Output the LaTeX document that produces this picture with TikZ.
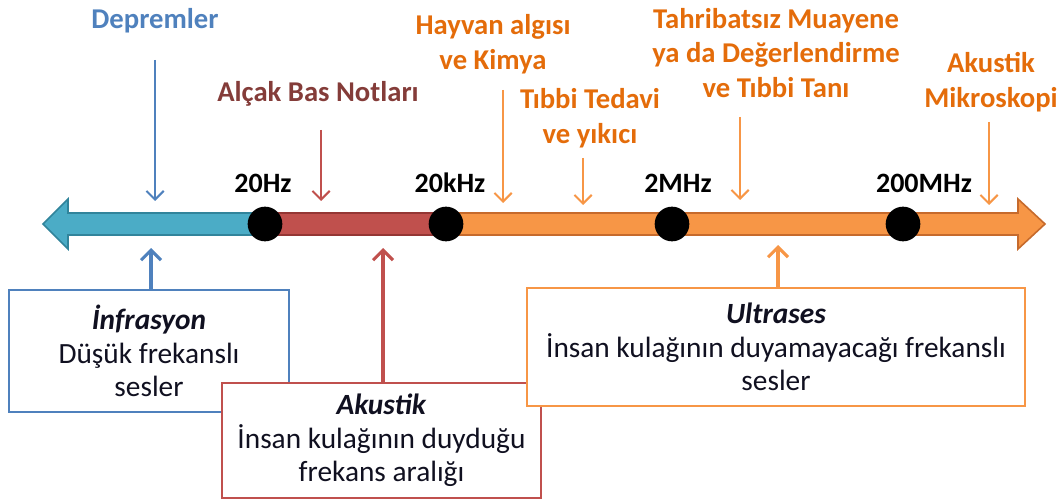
\documentclass[tikz,border=0pt]{standalone}
\usepackage{fontspec}
\setmainfont{Carlito}
\usetikzlibrary{arrows.meta}
\definecolor{cyanf}{HTML}{4BACC6}
\definecolor{cyand}{HTML}{31849B}
\definecolor{redf}{HTML}{C0504D}
\definecolor{redd}{HTML}{943634}
\definecolor{orf}{HTML}{F79646}
\definecolor{ord}{HTML}{C66A2C}
\definecolor{bluel}{HTML}{4F81BD}
\definecolor{dred}{HTML}{843C39}
\definecolor{ortext}{HTML}{E46C0A}
\definecolor{boxtext}{HTML}{101020}
\tikzset{
  lbl/.style={font=\fontsize{21.5}{26}\selectfont\bfseries, align=center, inner sep=0pt},
  hz/.style={font=\fontsize{21}{25}\selectfont\bfseries, text=black, inner sep=0pt},
  dot/.style={circle, fill=black, minimum size=26pt, inner sep=0pt},
  topar/.style={line width=1.5pt, -{Straight Barb[length=6.5pt,width=13pt]}},
  botar/.style={line width=2.3pt, -{Straight Barb[length=7.5pt,width=15pt]}},
  infobox/.style={draw, line width=1.8pt, fill=white, align=center, inner sep=0pt,
    font=\fontsize{22}{25}\selectfont, text=boxtext},
}
\begin{document}
\begin{tikzpicture}[x=0.75pt,y=-0.75pt]
\useasboundingbox (0,0) rectangle (1062,502);
% bar segments
\fill[cyanf, draw=cyand, line width=1.2pt] (265,213) -- (68,213) -- (68,199) -- (43,224) -- (68,249) -- (68,235) -- (265,235) -- cycle;
\fill[redf, draw=redd, line width=1.2pt] (265,213) rectangle (446,235);
\fill[orf, draw=ord, line width=1.2pt] (446,213) -- (1018,213) -- (1018,199) -- (1045,224) -- (1018,249) -- (1018,235) -- (446,235) -- cycle;
% dots
\node[dot] (d1) at (265,224) {};
\node[dot] (d2) at (446,224) {};
\node[dot] (d3) at (672,224) {};
\node[dot] (d4) at (903,224) {};
% Hz labels
\node[hz] (h1) at (263,183) {20Hz};
\node[hz] (h2) at (450,183) {20kHz};
\node[hz] (h3) at (678,183) {2MHz};
\node[hz] (h4) at (924,183) {200MHz};
% top labels
\node[lbl, text=bluel] (dep) at (155,21) {Depremler};
\node[lbl, text=dred] (alc) at (318,94) {Alçak Bas Notları};
\node[lbl, text=ortext] (hay) at (493,44) {Hayvan algısı\\ve Kimya};
\node[lbl, text=ortext] (tib) at (590,118) {Tıbbi Tedavi\\ve yıkıcı};
\node[lbl, text=ortext] (tah) at (776,53) {Tahribatsız Muayene\\ya da Değerlendirme\\ve Tıbbi Tanı};
\node[lbl, text=ortext] (aku) at (991,82) {Akustik\\Mikroskopi};
% arrow endpoints
\coordinate (e1) at (155,201);
\coordinate (s1) at (155,60);
\coordinate (e2) at (321,201);
\coordinate (s2) at (321,130);
\coordinate (e3) at (503,203);
\coordinate (s3) at (503,90);
\coordinate (e4) at (583,205);
\coordinate (s4) at (583,158);
\coordinate (e5) at (740,200);
\coordinate (s5) at (740,117);
\coordinate (e6) at (989,205);
\coordinate (s6) at (989,122);
\draw[topar, bluel] (s1) -- (e1);
\draw[topar, redf] (s2) -- (e2);
\draw[topar, orf] (s3) -- (e3);
\draw[topar, orf] (s4) -- (e4);
\draw[topar, orf] (s5) -- (e5);
\draw[topar, orf] (s6) -- (e6);
% boxes
\node[infobox, draw=bluel, minimum width=210pt, minimum height=91.5pt] (inf) at (149,351)
  {\textbf{\textit{İnfrasyon}}\\Düşük frekanslı\\sesler};
\node[infobox, draw=redf, minimum width=239.25pt, minimum height=86.25pt] (akb) at (381.5,440.5)
  {\textbf{\textit{Akustik}}\\İnsan kulağının duyduğu\\frekans aralığı};
\node[infobox, draw=orf, minimum width=373.5pt, minimum height=88.5pt] (ult) at (776,347)
  {\textbf{\textit{Ultrases}}\\İnsan kulağının duyamayacağı frekanslı\\sesler};
% bottom arrows
\coordinate (b1) at (151,248);
\coordinate (b2) at (383,248);
\coordinate (b3) at (778,245);
\draw[botar, bluel] (inf.north -| b1) -- (b1);
\draw[botar, redf] (akb.north -| b2) -- (b2);
\draw[botar, orf] (ult.north -| b3) -- (b3);
\end{tikzpicture}
\end{document}
